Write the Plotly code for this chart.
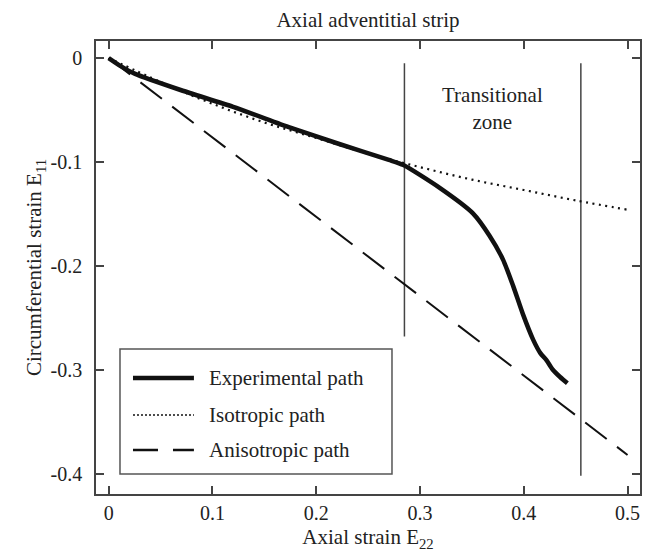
import plotly.graph_objects as go

# ---- data ----
exp_x = [0, 0.012, 0.025, 0.07, 0.12, 0.175, 0.22, 0.27, 0.284, 0.319, 0.351, 0.367,
         0.38, 0.39, 0.399, 0.409, 0.416, 0.422, 0.428, 0.435, 0.442]
exp_y = [0, -0.008, -0.015, -0.031, -0.047, -0.067, -0.082, -0.098, -0.103, -0.125, -0.1495, -0.171,
         -0.194, -0.220, -0.246, -0.271, -0.284, -0.291, -0.300, -0.307, -0.313]

iso_x = [0, 0.05, 0.1, 0.15, 0.2, 0.25, 0.3, 0.35, 0.4, 0.45, 0.5]
iso_y = [0, -0.023, -0.044, -0.062, -0.077, -0.092, -0.105, -0.117, -0.127, -0.137, -0.146]

aniso_x = [0, 0.5]
aniso_y = [0, -0.382]

# transition zone boundaries: x position, top, bottom
bound_x = [0.285, 0.455]
bound_top = [-0.005, -0.005]
bound_bottom = [-0.268, -0.402]

x_ticks = [0, 0.1, 0.2, 0.3, 0.4, 0.5]
x_tick_labels = ["0", "0.1", "0.2", "0.3", "0.4", "0.5"]
y_ticks = [0, -0.1, -0.2, -0.3, -0.4]
y_tick_labels = ["0", "-0.1", "-0.2", "-0.3", "-0.4"]

legend_names = ["Experimental path", "Isotropic path", "Anisotropic path"]

FONT = "Liberation Serif, Times New Roman, serif"
TXT = "#222222"
AX = "#444444"
FS = 21

W, H = 664, 555

fig = go.Figure()

# transition boundaries
for bx, bt, bb in zip(bound_x, bound_top, bound_bottom):
    fig.add_trace(go.Scatter(x=[bx, bx], y=[bt, bb], mode="lines",
                             line=dict(color="#444444", width=1.5),
                             showlegend=False, hoverinfo="skip"))

fig.add_trace(go.Scatter(x=aniso_x, y=aniso_y, mode="lines", name=legend_names[2],
                         line=dict(color="#111111", width=2, dash="27px,13px"),
                         showlegend=False))
fig.add_trace(go.Scatter(x=iso_x, y=iso_y, mode="lines", name=legend_names[1],
                         line=dict(color="#111111", width=2.2, dash="2px,4.5px", shape="spline"),
                         showlegend=False))
fig.add_trace(go.Scatter(x=exp_x, y=exp_y, mode="lines", name=legend_names[0],
                         line=dict(color="#111111", width=4.5, shape="spline", smoothing=0.6),
                         showlegend=False))

# ---- manual legend (paper coordinates) ----
box = dict(x0=0.0441, x1=0.5441, y0=0.0442, y1=0.3201)
fig.add_shape(type="rect", xref="paper", yref="paper", **box,
              line=dict(color="#555555", width=1.5), fillcolor="white", layer="above")
row_y = [0.2561, 0.1744, 0.0971]
styles = [dict(color="#111111", width=4.5),
          dict(color="#111111", width=1.5, dash="2px,2px"),
          dict(color="#111111", width=2.5, dash="25px,15px")]
for name, ry, st in zip(legend_names, row_y, styles):
    fig.add_shape(type="line", xref="paper", yref="paper", x0=0.068, x1=0.180, y0=ry, y1=ry,
                  line=st, layer="above")
    fig.add_annotation(xref="paper", yref="paper", x=0.204, y=ry, text=name, showarrow=False,
                       xanchor="left", yanchor="middle", font=dict(family=FONT, size=FS, color=TXT))

fig.add_annotation(x=0.37, y=-0.0486, xref="x", yref="y", text="Transitional<br>zone",
                   showarrow=False, font=dict(family=FONT, size=FS, color=TXT))

axis_common = dict(showline=True, linecolor=AX, linewidth=1.5, mirror="ticks",
                   ticks="inside", ticklen=8, tickwidth=1.5, tickcolor=AX,
                   showgrid=False, zeroline=False, automargin=False,
                   tickfont=dict(family=FONT, size=20, color=TXT))

fig.update_layout(
    width=W, height=H,
    margin=dict(l=96, r=24, t=41, b=61),
    paper_bgcolor="white", plot_bgcolor="white",
    title=dict(text="Axial adventitial strip", x=0.5, xref="paper", xanchor="center",
               y=1 - 20 / H, yref="container", yanchor="middle",
               font=dict(family=FONT, size=FS, color=TXT)),
    xaxis=dict(range=[-0.0122, 0.512], tickvals=x_ticks, ticktext=x_tick_labels,
               ticklabelstandoff=0,
               title=dict(text="Axial strain E<sub>22</sub>", standoff=7,
                          font=dict(family=FONT, size=FS, color=TXT)),
               **axis_common),
    yaxis=dict(range=[-0.4196, 0.0164], tickvals=y_ticks, ticktext=y_tick_labels,
               ticklabelstandoff=8,
               title=dict(text="Circumferential strain E<sub>11</sub>", standoff=3,
                          font=dict(family=FONT, size=FS, color=TXT)),
               **axis_common),
    showlegend=False,
)

# remove the browser's default 8px body margin so the figure fills the window
fig.write_html("out.html",
               config={"displayModeBar": False},
               post_script="document.body.style.margin='0';document.body.style.overflow='hidden';")
